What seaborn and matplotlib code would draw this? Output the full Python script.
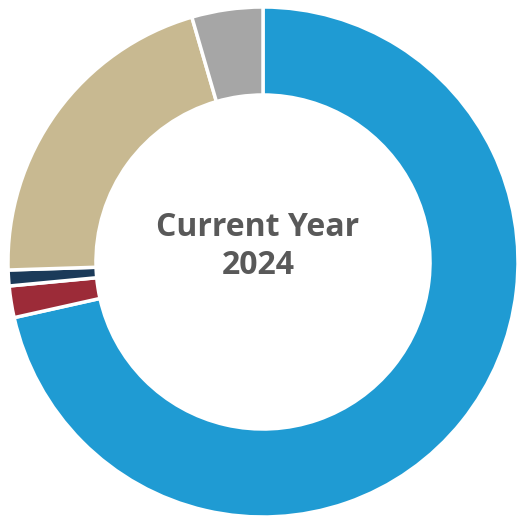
import matplotlib
matplotlib.use("Agg")
import matplotlib.pyplot as plt
import seaborn as sns

# Share of the year's total by segment
segments = ["Segment A", "Segment B", "Segment C", "Segment D", "Segment E"]
shares = [71.5, 2.0, 1.0, 21.0, 4.5]
colors = ["#1F9BD3", "#9C2B38", "#1B3A59", "#C8B991", "#A6A6A6"]

sns.set_theme(style="white")
plt.rcParams["font.family"] = ["Open Sans", "DejaVu Sans"]

fig = plt.figure(figsize=(5.19, 5.17), dpi=100)
ax = fig.add_axes([0, 0, 1, 1])

ax.pie(
    shares,
    colors=sns.color_palette(colors),
    startangle=90,
    counterclock=False,
    radius=1.0,
    wedgeprops=dict(width=0.345, edgecolor="white", linewidth=2.5),
)

ax.text(-0.02, 0.06, "Current Year\n2024", ha="center", va="center",
        fontsize=23, fontweight="bold", color="#595959", linespacing=1.2)

ax.set_xlim(-263 / 255, (519 - 263) / 255)
ax.set_ylim(-(517 - 262) / 255, 262 / 255)
ax.set_aspect("equal")
ax.axis("off")

fig.savefig("out.png", dpi=100, facecolor="white")
